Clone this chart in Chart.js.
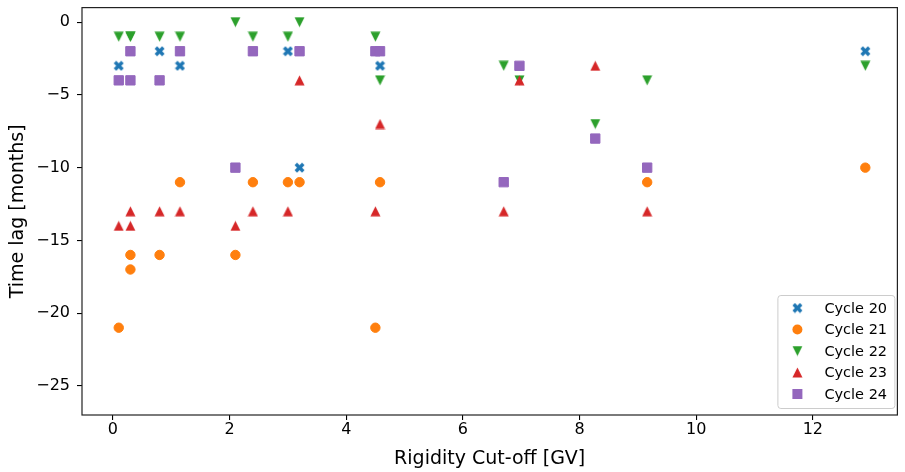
<!DOCTYPE html>
<html>
<head>
<meta charset="utf-8">
<script src="https://cdn.jsdelivr.net/npm/chart.js@4.4.0/dist/chart.umd.min.js"></script>
<style>
  html, body { margin: 0; padding: 0; background: #fff; }
  #wrap { width: 905px; height: 472px; }
</style>
</head>
<body>
<div id="wrap"><canvas id="lagChart"></canvas></div>
<script>
"use strict";

// rigidity cut-off of each station [GV]
var cutoff = [0.1, 0.3, 0.3, 0.8, 1.15, 2.1, 2.4, 3.0, 3.2, 4.5, 4.58, 6.7, 6.97, 8.27, 9.16, 12.9];
// time lag per station [months], null where the station has no value
var cycle20 = [-3, null, null, -2, -3, null, null, -2, -10, null, -3, null, null, null, null, -2];
var cycle21 = [-21, -16, -17, -16, -11, -16, -11, -11, -11, -21, -11, null, null, null, -11, -10];
var cycle22 = [-1, -1, -1, -1, -1, 0, -1, -1, 0, -1, -4, -3, -4, -7, -4, -3];
var cycle23 = [-14, -13, -14, -13, -13, -14, -13, -13, -4, -13, -7, -13, -4, -3, -13, null];
var cycle24 = [-4, -2, -4, -4, -2, -10, -2, null, -2, -2, -2, -11, -3, -8, -10, null];

var cycleNames = ["Cycle 20", "Cycle 21", "Cycle 22", "Cycle 23", "Cycle 24"];
var xTicks = [0, 2, 4, 6, 8, 10, 12];
var yTicks = [-25, -20, -15, -10, -5, 0];

var FONT = "'DejaVu Sans', sans-serif";
var colors = ["#1f77b4", "#ff7f0e", "#2ca02c", "#d62728", "#9467bd"];

function polyMarker(size, color, pts) {
  var c = document.createElement("canvas");
  c.width = size;
  c.height = size;
  var g = c.getContext("2d");
  g.fillStyle = color;
  g.beginPath();
  pts.forEach(function (p, i) {
    var px = 0.5 + p[0] * (size - 1);
    var py = 0.5 + p[1] * (size - 1);
    if (i === 0) g.moveTo(px, py);
    else g.lineTo(px, py);
  });
  g.closePath();
  g.fill();
  return c;
}

// matplotlib-like filled X and triangles
var xMarker = polyMarker(11, colors[0], [
  [0.25, 0], [0.5, 0.25], [0.75, 0], [1, 0.25], [0.75, 0.5], [1, 0.75],
  [0.75, 1], [0.5, 0.75], [0.25, 1], [0, 0.75], [0.25, 0.5], [0, 0.25]
]);
var downMarker = polyMarker(11, colors[2], [[0, 0], [1, 0], [0.5, 1]]);
var upMarker = polyMarker(11, colors[3], [[0.5, 0], [1, 1], [0, 1]]);

function toPoints(values) {
  var pts = [];
  values.forEach(function (v, i) {
    if (v !== null) pts.push({ x: cutoff[i], y: v });
  });
  return pts;
}

var series = [cycle20, cycle21, cycle22, cycle23, cycle24];
var styles = [xMarker, "circle", downMarker, upMarker, "rect"];
var radii = [5.5, 4.7, 5.5, 5.5, 6.6];

var datasets = series.map(function (vals, i) {
  return {
    label: cycleNames[i],
    data: toPoints(vals),
    pointStyle: styles[i],
    pointRadius: radii[i],
    pointHoverRadius: radii[i],
    backgroundColor: colors[i],
    borderColor: colors[i],
    pointBorderWidth: typeof styles[i] === "string" ? 1 : 0,
    showLine: false,
    order: 4 - i, // later cycles are drawn on top
  };
});

var framePlugin = {
  id: "frame",
  afterDatasetsDraw: function (chart) {
    var a = chart.chartArea;
    var ctx = chart.ctx;
    ctx.save();
    ctx.strokeStyle = "#222";
    ctx.lineWidth = 1.2;
    ctx.strokeRect(a.left, a.top, a.right - a.left, a.bottom - a.top);
    ctx.restore();
  },
};

var legendPlugin = {
  id: "cornerLegend",
  afterDraw: function (chart) {
    var a = chart.chartArea;
    var ctx = chart.ctx;
    var boxW = 117, boxH = 113;
    var left = a.right - 3 - boxW;
    var top = a.bottom - 7 - boxH;
    ctx.save();
    ctx.beginPath();
    ctx.roundRect(left + 0.5, top + 0.5, boxW, boxH, 3);
    ctx.fillStyle = "rgba(255,255,255,0.8)";
    ctx.fill();
    ctx.strokeStyle = "#cccccc";
    ctx.lineWidth = 1;
    ctx.stroke();
    ctx.font = "14.5px " + FONT;
    ctx.textBaseline = "middle";
    ctx.textAlign = "left";
    chart.data.datasets.forEach(function (ds, i) {
      var y = top + 13 + i * 21.5;
      var x = left + 20;
      var st = ds.pointStyle;
      ctx.fillStyle = ds.backgroundColor;
      if (st === "circle") {
        ctx.beginPath();
        ctx.arc(x, y, 5, 0, Math.PI * 2);
        ctx.fill();
      } else if (st === "rect") {
        ctx.fillRect(x - 5, y - 5, 10, 10);
      } else {
        ctx.drawImage(st, x - st.width / 2, y - st.height / 2);
      }
      ctx.fillStyle = "#000";
      ctx.fillText(ds.label, left + 47, y + 1);
    });
    ctx.restore();
  },
};

function axisTicks(list) {
  return function (scale) {
    scale.ticks = list.map(function (v) { return { value: v }; });
  };
}

// fixed axis boxes so the plot area lands where the reference has it
function fixBox(w, h) {
  return function (s) {
    if (w) s.width = w;
    if (h) s.height = h;
    s.paddingTop = 0;
    s.paddingBottom = 0;
    s.paddingLeft = 0;
    s.paddingRight = 0;
  };
}

var lagChart = new Chart(document.getElementById("lagChart").getContext("2d"), {
  type: "scatter",
  data: { datasets: datasets },
  plugins: [framePlugin, legendPlugin],
  options: {
    responsive: true,
    maintainAspectRatio: false,
    animation: false,
    layout: { padding: { top: 5, right: 2, left: 0, bottom: 0 } },
    plugins: {
      legend: { display: false },
      tooltip: { enabled: false },
    },
    scales: {
      x: {
        type: "linear",
        min: -0.53,
        max: 13.45,
        afterBuildTicks: axisTicks(xTicks),
        afterFit: fixBox(0, 57),
        border: { display: false },
        grid: { drawOnChartArea: false, drawTicks: true, tickLength: 5, color: "#000", lineWidth: 1.1 },
        ticks: { color: "#000", font: { family: FONT, size: 16 }, padding: 0, maxRotation: 0, autoSkip: false },
        title: {
          display: true,
          text: "Rigidity Cut-off [GV]",
          color: "#000",
          font: { family: FONT, size: 19, lineHeight: 1 },
          padding: { top: 0, bottom: 3.5 },
        },
      },
      y: {
        type: "linear",
        min: -27,
        max: 1,
        afterBuildTicks: axisTicks(yTicks),
        afterFit: fixBox(82, 0),
        border: { display: false },
        grid: { drawOnChartArea: false, drawTicks: true, tickLength: 5, color: "#000", lineWidth: 1.1 },
        ticks: {
          color: "#000",
          font: { family: FONT, size: 16 },
          padding: 7,
          autoSkip: false,
          callback: function (v) { return String(v).replace("-", "\u2212"); },
        },
        title: {
          display: true,
          text: "Time lag [months]",
          color: "#000",
          font: { family: FONT, size: 19, lineHeight: 1 },
          padding: { top: 8.5, bottom: 0 },
        },
      },
    },
  },
});
</script>
</body>
</html>
